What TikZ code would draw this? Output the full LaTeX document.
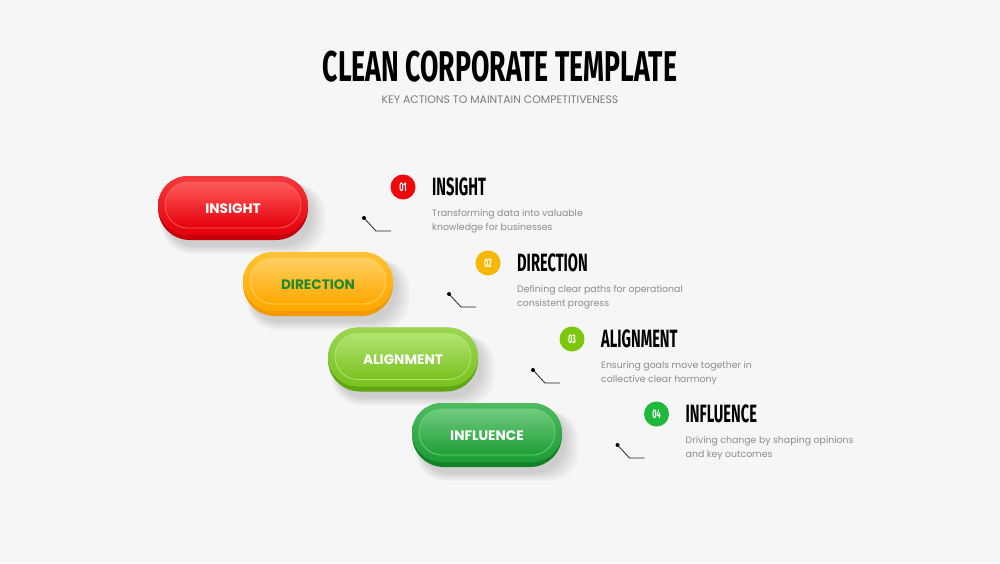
\documentclass[tikz,border=0pt]{standalone}
\usepackage{fontspec}
\setmainfont{Poppins}
\newfontfamily\headfont[FakeStretch=0.62]{Fira Sans}
\newfontfamily\stepfont[FakeStretch=0.585]{Fira Sans}
\definecolor{bgc}{HTML}{F6F6F6}
\definecolor{redrim}{HTML}{C4000A}
\definecolor{redbase}{HTML}{E4000C}
\definecolor{redlight}{HTML}{F23A3A}
\definecolor{redhi}{HTML}{FF5A5A}
\definecolor{orarim}{HTML}{F29A00}
\definecolor{orabase}{HTML}{FFA800}
\definecolor{oralight}{HTML}{FFC233}
\definecolor{orahi}{HTML}{FFD060}
\definecolor{limrim}{HTML}{5FA514}
\definecolor{limbase}{HTML}{78C21E}
\definecolor{limlight}{HTML}{9AD650}
\definecolor{limhi}{HTML}{B2E372}
\definecolor{grnrim}{HTML}{14802A}
\definecolor{grnbase}{HTML}{1E9E37}
\definecolor{grnlight}{HTML}{4DBB5E}
\definecolor{grnhi}{HTML}{6FCB7D}
\definecolor{c1}{HTML}{EE0A0A}
\definecolor{c2}{HTML}{F5B700}
\definecolor{c3}{HTML}{7AC70C}
\definecolor{c4}{HTML}{1EB93C}
\definecolor{desccol}{HTML}{8C8C8C}
\definecolor{subcol}{HTML}{7A7A7A}
\definecolor{dirgreen}{HTML}{1E8A2A}
\tikzset{
  pillshape/.style={rectangle, minimum width=150pt, minimum height=64pt, rounded corners=31.9pt, inner sep=0pt},
  pilltext/.style={font=\bfseries\fontsize{13.7}{13.7}\selectfont},
  numdot/.style={circle, minimum size=25pt, inner sep=0pt, text=white, font=\stepfont\bfseries\fontsize{12.5}{12.5}\selectfont},
  headtxt/.style={anchor=west, inner sep=0pt, font=\stepfont\bfseries\fontsize{25}{25}\selectfont, text=black},
  desctxt/.style={anchor=base west, inner sep=0pt, font=\fontsize{9.35}{9.35}\selectfont, text=desccol},
  leader/.style={draw=black!85, line width=0.8pt},
}
\newcommand\pill[6]{%
  \begin{scope}[shift={(#2,#3)}]
    \foreach \k in {0,...,9}{%
      \fill[black, opacity=0.017, rounded corners=30] (-68-\k*0.4, -26+\k*0.2) rectangle (78+\k*1.6, 38+\k*0.9);
    }
  \end{scope}
  \node[pillshape, fill=#4rim] (#1) at (#2,#3) {};
  \begin{scope}[shift={(#2,#3)}]
    \shade[rounded corners=29.4, top color=#4light, bottom color=#4base] (-75,-32) rectangle (75,27);
    \shade[rounded corners=22.9, top color=#4hi, bottom color=#4base, draw=#4hi, line width=0.8] (-68,-26) rectangle (68,20);
  \end{scope}
  \node[pilltext, text=#5] (#1-label) at ([yshift=-0.5pt]#1.center) {#6};
}
\newcommand\stepitem[8]{%
  \node[numdot, fill=#4] (num#1) at (#2,#3) {#5};
  \node[headtxt] (head#1) at (#2+29,#3) {#6};
  \node[desctxt] (desc#1a) at (#2+29,#3+29.5) {#7};
  \node[desctxt] (desc#1b) at (#2+29,#3+43.5) {#8};
  \coordinate (dotp#1) at (#2-39,#3+31);
  \coordinate (bend#1) at (#2-27,#3+44);
  \coordinate (endp#1) at (#2-12,#3+44);
  \draw[leader] (dotp#1) -- (bend#1) -- (endp#1);
  \fill[black] (dotp#1) circle (2pt);
}
\begin{document}
\begin{tikzpicture}[x=1pt,y=-1pt]
\fill[bgc] (0,0) rectangle (1000,563);
\useasboundingbox (0,0) rectangle (1000,563);
\node[font=\headfont\bfseries\fontsize{43}{43}\selectfont, inner sep=0pt] (title) at (500,67) {CLEAN CORPORATE TEMPLATE};
\node[font=\fontsize{10.9}{10.9}\selectfont, text=subcol, inner sep=0pt] (subtitle) at (500,99.5) {KEY ACTIONS TO MAINTAIN COMPETITIVENESS};

\pill{p1}{233}{208}{red}{white}{INSIGHT}
\pill{p2}{318}{284}{ora}{dirgreen}{DIRECTION}
\pill{p3}{403}{359.5}{lim}{white}{ALIGNMENT}
\pill{p4}{487}{435}{grn}{white}{INFLUENCE}

\stepitem{1}{403}{187}{c1}{01}{INSIGHT}{Transforming data into valuable}{knowledge for businesses}
\stepitem{2}{488}{263}{c2}{02}{DIRECTION}{Defining clear paths for operational}{consistent progress}
\stepitem{3}{572}{339}{c3}{03}{ALIGNMENT}{Ensuring goals move together in}{collective clear harmony}
\stepitem{4}{656.5}{414}{c4}{04}{INFLUENCE}{Driving change by shaping opinions}{and key outcomes}
\end{tikzpicture}
\end{document}
